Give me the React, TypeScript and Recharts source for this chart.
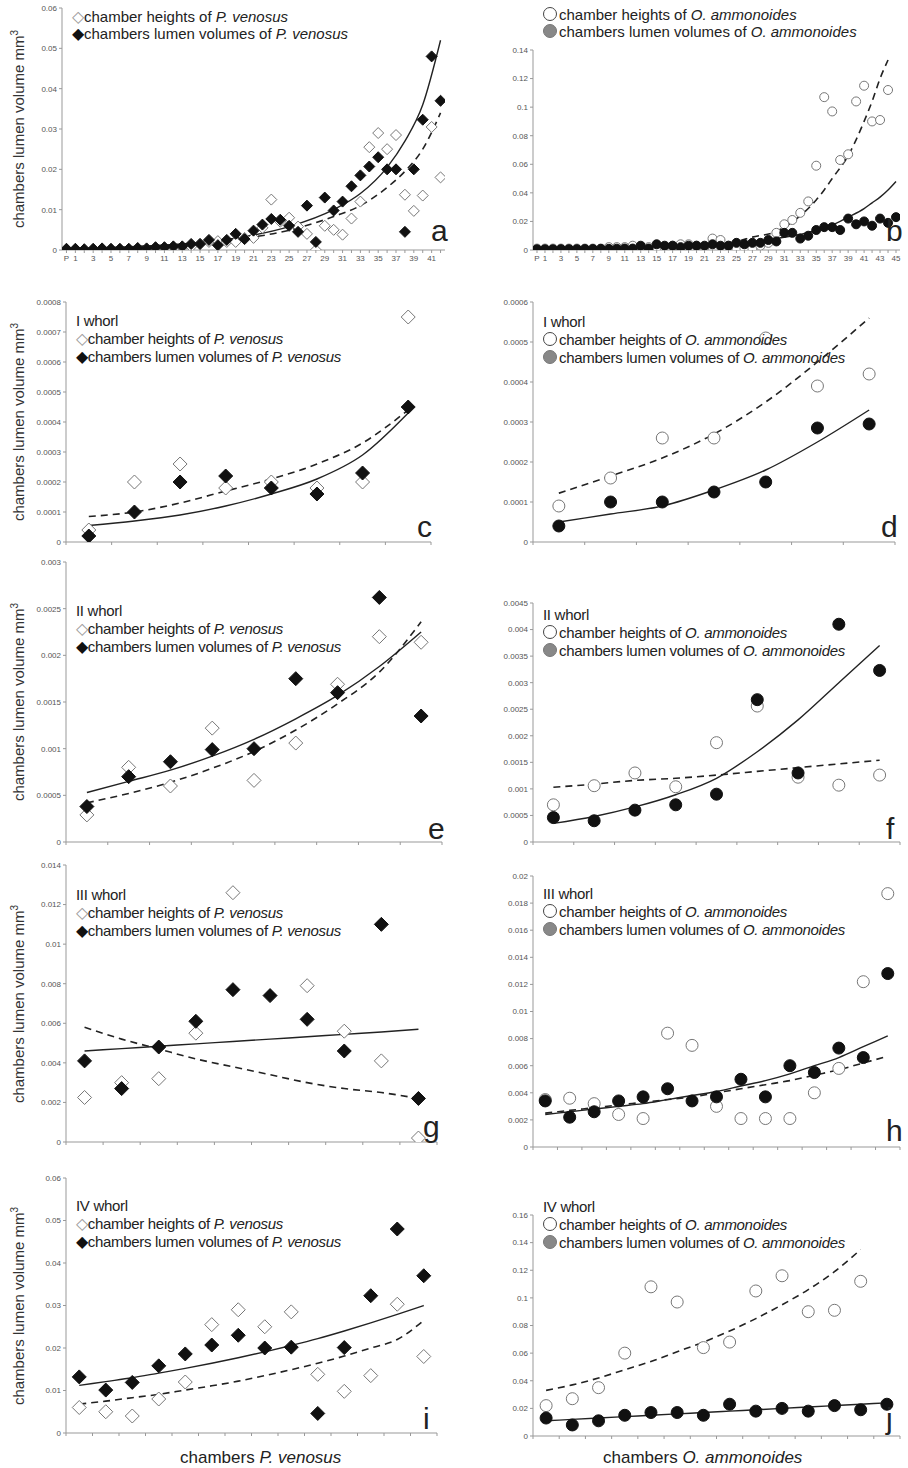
import React from "react";
import { ComposedChart, Scatter, Line, XAxis, YAxis } from "recharts";

// ---- data ----
const aIdx = Array.from({ length: 43 }, (_, i) => i);
const aLabels = ["P", "1", "", "3", "", "5", "", "7", "", "9", "", "11", "", "13", "", "15", "", "17", "", "19", "", "21", "", "23", "", "25", "", "27", "", "29", "", "31", "", "33", "", "35", "", "37", "", "39", "", "41", ""];
const aOpen = [0.0002, 0.0002, 0.0001, 0.0002, 0.0003, 0.0002, 0.0002, 0.0002, 0.0004, 0.0003, 0.0005, 0.0005, 0.0007, 0.0006, 0.0008, 0.0015, 0.002, 0.0022, 0.002, 0.002, 0.003, 0.003, 0.0055, 0.0125, 0.007, 0.008, 0.0058, 0.004, 0, 0.006, 0.005, 0.0038, 0.0078, 0.012, 0.0255, 0.029, 0.025, 0.0285, 0.0137, 0.0097, 0.0135, 0.0305, 0.018];
const aFilled = [0.0003, 0.0003, 0.0002, 0.0003, 0.0004, 0.0003, 0.0003, 0.0003, 0.0005, 0.0004, 0.0007, 0.0007, 0.0009, 0.0009, 0.0015, 0.0015, 0.0025, 0.0012, 0.0025, 0.004, 0.0027, 0.0048, 0.0063, 0.0077, 0.0075, 0.006, 0.0045, 0.011, 0.002, 0.013, 0.0098, 0.012, 0.0158, 0.0185, 0.0207, 0.023, 0.02, 0.02, 0.0045, 0.02, 0.0323, 0.048, 0.037];
const aTrendX = [0, 5, 10, 15, 20, 25, 30, 33, 36, 38, 40, 42];
const aSolid = [0.0003, 0.0006, 0.0011, 0.0019, 0.0033, 0.0058, 0.01, 0.014, 0.0205, 0.027, 0.036, 0.052];
const aDashed = [0.0003, 0.0006, 0.001, 0.0017, 0.0029, 0.0049, 0.0083, 0.011, 0.0155, 0.0195, 0.025, 0.034];

const bIdx = Array.from({ length: 46 }, (_, i) => i);
const bLabels = ["P", "1", "", "3", "", "5", "", "7", "", "9", "", "11", "", "13", "", "15", "", "17", "", "19", "", "21", "", "23", "", "25", "", "27", "", "29", "", "31", "", "33", "", "35", "", "37", "", "39", "", "41", "", "43", "", "45"];
const bOpen = [0.001, 0.001, 0.001, 0.001, 0.001, 0.001, 0.001, 0.001, 0.001, 0.002, 0.002, 0.002, 0.003, 0.002, 0.002, 0.001, 0.001, 0.003, 0.004, 0.004, 0.003, 0.002, 0.008, 0.007, 0.003, 0.001, 0.001, 0.001, 0.003, 0.005, 0.012, 0.018, 0.021, 0.026, 0.034, 0.059, 0.107, 0.097, 0.063, 0.067, 0.104, 0.115, 0.09, 0.091, 0.112, null];
const bFilled = [0.0005, 0.0005, 0.0005, 0.0006, 0.0006, 0.0006, 0.0007, 0.0007, 0.0008, 0.0008, 0.0009, 0.001, 0.001, 0.003, 0.001, 0.004, 0.003, 0.003, 0.002, 0.003, 0.003, 0.003, 0.004, 0.003, 0.003, 0.005, 0.004, 0.005, 0.005, 0.007, 0.006, 0.012, 0.012, 0.008, 0.01, 0.014, 0.016, 0.016, 0.014, 0.022, 0.018, 0.02, 0.017, 0.022, 0.019, 0.023];
const bTrendX = [0, 5, 10, 15, 20, 25, 27, 30, 33, 35, 36, 37, 39, 41, 42, 43, 44, 45];
const bSolid = [0.0003, 0.0005, 0.0009, 0.0016, 0.0028, 0.0045, 0.0057, 0.008, 0.011, 0.0138, 0.016, 0.0175, 0.023, 0.029, 0.033, 0.037, 0.042, 0.048];
const bDashed = [0.0003, 0.0005, 0.0009, 0.0016, 0.003, 0.006, 0.009, 0.013, 0.024, 0.035, 0.042, 0.05, 0.066, 0.09, 0.104, 0.12, 0.133, null];

const cOpen = [0.00004, 0.0002, 0.00026, 0.00018, 0.0002, 0.00018, 0.0002, 0.00075];
const cFilled = [0.00002, 0.0001, 0.0002, 0.00022, 0.00018, 0.00016, 0.00023, 0.00045];
const cSolid = [0.000055, 0.00007, 0.00009, 0.00012, 0.00016, 0.00021, 0.00029, 0.00043];
const cDashed = [0.000085, 0.0001, 0.00013, 0.00017, 0.00021, 0.00026, 0.00033, 0.00044];

const dOpen = [0.00009, 0.00016, 0.00026, 0.00026, 0.00051, 0.00039, 0.00042];
const dFilled = [0.00004, 0.0001, 0.0001, 0.000125, 0.00015, 0.000285, 0.000295];
const dSolid = [0.00005, 0.00007, 0.00009, 0.00013, 0.00018, 0.00025, 0.00033];
const dDashed = [0.000122, 0.000165, 0.00021, 0.00027, 0.00035, 0.00045, 0.00056];

const eOpen = [0.00029, 0.0008, 0.0006, 0.00122, 0.00066, 0.00106, 0.00169, 0.0022, 0.00214];
const eFilled = [0.00038, 0.0007, 0.00086, 0.00099, 0.001, 0.00175, 0.0016, 0.00262, 0.00135];
const eSolid = [0.00053, 0.00065, 0.00077, 0.00092, 0.0011, 0.00132, 0.00157, 0.00188, 0.00225];
const eDashed = [0.00042, 0.00052, 0.00064, 0.00079, 0.00097, 0.0012, 0.00148, 0.00182, 0.00236];

const fOpen = [0.0007, 0.00106, 0.0013, 0.00104, 0.00187, 0.00256, 0.00122, 0.00107, 0.00126];
const fFilled = [0.00046, 0.0004, 0.0006, 0.0007, 0.0009, 0.00268, 0.0013, 0.0041, 0.00323];
const fSolid = [0.00035, 0.00048, 0.00066, 0.00089, 0.0012, 0.0017, 0.0023, 0.003, 0.0037];
const fDashed = [0.00103, 0.00109, 0.00116, 0.0012, 0.00126, 0.00133, 0.0014, 0.00147, 0.00154];

const gOpen = [0.00225, 0.003, 0.0032, 0.0055, 0.0126, null, 0.0079, 0.0056, 0.0041, 0.0002];
const gFilled = [0.0041, 0.0027, 0.0048, 0.0061, 0.0077, 0.0074, 0.0062, 0.0046, 0.011, 0.0022];
const gSolid = [0.0046, 0.00472, 0.00484, 0.00496, 0.00508, 0.0052, 0.00532, 0.00544, 0.00556, 0.0057];
const gDashed = [0.0058, 0.0052, 0.0047, 0.0042, 0.0038, 0.0034, 0.003, 0.0027, 0.0025, 0.0022];

const hOpen = [0.0035, 0.0036, 0.0032, 0.0024, 0.0021, 0.0084, 0.0075, 0.003, 0.0021, 0.0021, 0.0021, 0.004, 0.0058, 0.0122, 0.0187];
const hFilled = [0.0034, 0.0022, 0.0026, 0.0034, 0.0037, 0.0043, 0.0034, 0.0037, 0.005, 0.0037, 0.006, 0.0055, 0.0073, 0.0066, 0.0128];
const hSolid = [0.0024, 0.0026, 0.0028, 0.003, 0.0032, 0.0035, 0.0038, 0.0041, 0.0045, 0.0049, 0.0054, 0.006, 0.0066, 0.0074, 0.0082];
const hDashed = [0.0025, 0.0027, 0.0029, 0.0031, 0.0033, 0.0035, 0.0037, 0.004, 0.0043, 0.0046, 0.0049, 0.0053, 0.0057, 0.0062, 0.0067];

const iOpen = [0.006, 0.005, 0.004, 0.008, 0.012, 0.0255, 0.029, 0.025, 0.0285, 0.0138, 0.0098, 0.0135, 0.0303, 0.018];
const iFilled = [0.0132, 0.0101, 0.0119, 0.0158, 0.0186, 0.0207, 0.023, 0.02, 0.0202, 0.0046, 0.0201, 0.0323, 0.048, 0.037];
const iSolid = [0.0112, 0.0121, 0.013, 0.0141, 0.0152, 0.0164, 0.0177, 0.0191, 0.0206, 0.0222, 0.024, 0.0259, 0.0279, 0.03];
const iDashed = [0.0068, 0.0075, 0.0083, 0.0091, 0.0101, 0.0111, 0.0122, 0.0135, 0.0149, 0.0164, 0.0181, 0.02, 0.022, 0.0265];

const jOpen = [0.022, 0.027, 0.035, 0.06, 0.108, 0.097, 0.064, 0.068, 0.105, 0.116, 0.09, 0.091, 0.112, null];
const jFilled = [0.013, 0.008, 0.011, 0.015, 0.017, 0.017, 0.015, 0.023, 0.018, 0.02, 0.018, 0.022, 0.019, 0.023];
const jSolid = [0.011, 0.012, 0.013, 0.014, 0.015, 0.016, 0.017, 0.018, 0.019, 0.02, 0.021, 0.022, 0.023, 0.024];
const jDashed = [0.033, 0.037, 0.042, 0.048, 0.054, 0.061, 0.068, 0.076, 0.085, 0.095, 0.106, 0.119, 0.135, null];

const FONT = "'Liberation Sans', Arial, sans-serif";

type Row = { x: number; open?: number | null; filled?: number | null; solid?: number | null; dashed?: number | null };

function centered(open: (number | null)[], filled: (number | null)[], solid: (number | null)[], dashed: (number | null)[]): Row[] {
  return filled.map((v, i) => ({ x: i + 0.5, open: open[i], filled: v, solid: solid[i], dashed: dashed[i] }));
}

function indexed(idx: number[], open: (number | null)[], filled: number[], tx: number[], solid: (number | null)[], dashed: (number | null)[]): Row[] {
  return idx.map((x, i) => {
    const t = tx.indexOf(x);
    return { x, open: open[i], filled: filled[i], solid: t >= 0 ? solid[t] : null, dashed: t >= 0 ? dashed[t] : null };
  });
}

const marker = (kind: "d" | "c", hollow: boolean, r: number) => (p: any) => {
  const { cx, cy } = p;
  if (!Number.isFinite(cx) || !Number.isFinite(cy)) return <g />;
  const fill = hollow ? "#fff" : "#111";
  const stroke = hollow ? "#777" : "#111";
  if (kind === "c") return <circle cx={cx} cy={cy} r={r} fill={fill} stroke={stroke} strokeWidth={1} />;
  return <path d={`M${cx},${cy - r}L${cx + r},${cy}L${cx},${cy + r}L${cx - r},${cy}Z`} fill={fill} stroke={stroke} strokeWidth={1} />;
};

type Panel = {
  col: 0 | 1; top: number; bottom: number; right: number; axisX: number;
  ymax: number; yticks: number[]; rows: Row[]; xDomain: [number, number]; xTicks: number[];
  xLabels?: string[]; kind: "d" | "c"; whorl?: string; letter: string; letterY: number;
  legendY: number; r: number; narrow: boolean;
};

const ticksN = (n: number) => Array.from({ length: n + 1 }, (_, i) => i);

const panels: Panel[] = [
  { col: 0, top: 8, bottom: 250, right: 445, axisX: 62, ymax: 0.06, yticks: [0, 0.01, 0.02, 0.03, 0.04, 0.05, 0.06], rows: indexed(aIdx, aOpen, aFilled, aTrendX, aSolid, aDashed), xDomain: [-0.5, 42.5], xTicks: aIdx, xLabels: aLabels, kind: "d", letter: "a", letterY: 214, legendY: 8, r: 5.5, narrow: false },
  { col: 1, top: 50, bottom: 250, right: 900, axisX: 533, ymax: 0.14, yticks: [0, 0.02, 0.04, 0.06, 0.08, 0.1, 0.12, 0.14], rows: indexed(bIdx, bOpen, bFilled, bTrendX, bSolid, bDashed), xDomain: [-0.5, 45.5], xTicks: bIdx, xLabels: bLabels, kind: "c", letter: "b", letterY: 214, legendY: 6, r: 4.5, narrow: false },
  { col: 0, top: 302, bottom: 542, right: 431, axisX: 66, ymax: 0.0008, yticks: [0, 0.0001, 0.0002, 0.0003, 0.0004, 0.0005, 0.0006, 0.0007, 0.0008], rows: centered(cOpen, cFilled, cSolid, cDashed), xDomain: [0, 8], xTicks: ticksN(8), kind: "d", whorl: "I whorl", letter: "c", letterY: 510, legendY: 312, r: 7, narrow: true },
  { col: 1, top: 302, bottom: 542, right: 895, axisX: 533, ymax: 0.0006, yticks: [0, 0.0001, 0.0002, 0.0003, 0.0004, 0.0005, 0.0006], rows: centered(dOpen, dFilled, dSolid, dDashed), xDomain: [0, 7], xTicks: ticksN(7), kind: "c", whorl: "I whorl", letter: "d", letterY: 510, legendY: 313, r: 6, narrow: true },
  { col: 0, top: 562, bottom: 842, right: 442, axisX: 66, ymax: 0.003, yticks: [0, 0.0005, 0.001, 0.0015, 0.002, 0.0025, 0.003], rows: centered(eOpen, eFilled, eSolid, eDashed), xDomain: [0, 9], xTicks: ticksN(9), kind: "d", whorl: "II whorl", letter: "e", letterY: 812, legendY: 602, r: 7, narrow: true },
  { col: 1, top: 603, bottom: 842, right: 900, axisX: 533, ymax: 0.0045, yticks: [0, 0.0005, 0.001, 0.0015, 0.002, 0.0025, 0.003, 0.0035, 0.004, 0.0045], rows: centered(fOpen, fFilled, fSolid, fDashed), xDomain: [0, 9], xTicks: ticksN(9), kind: "c", whorl: "II whorl", letter: "f", letterY: 812, legendY: 606, r: 6, narrow: true },
  { col: 0, top: 865, bottom: 1142, right: 437, axisX: 66, ymax: 0.014, yticks: [0, 0.002, 0.004, 0.006, 0.008, 0.01, 0.012, 0.014], rows: centered(gOpen, gFilled, gSolid, gDashed), xDomain: [0, 10], xTicks: ticksN(10), kind: "d", whorl: "III whorl", letter: "g", letterY: 1110, legendY: 886, r: 7, narrow: true },
  { col: 1, top: 876, bottom: 1147, right: 900, axisX: 533, ymax: 0.02, yticks: [0, 0.002, 0.004, 0.006, 0.008, 0.01, 0.012, 0.014, 0.016, 0.018, 0.02], rows: centered(hOpen, hFilled, hSolid, hDashed), xDomain: [0, 15], xTicks: ticksN(15), kind: "c", whorl: "III whorl", letter: "h", letterY: 1114, legendY: 885, r: 6, narrow: true },
  { col: 0, top: 1178, bottom: 1433, right: 437, axisX: 66, ymax: 0.06, yticks: [0, 0.01, 0.02, 0.03, 0.04, 0.05, 0.06], rows: centered(iOpen, iFilled, iSolid, iDashed), xDomain: [0, 14], xTicks: ticksN(14), kind: "d", whorl: "IV whorl", letter: "i", letterY: 1402, legendY: 1197, r: 7, narrow: true },
  { col: 1, top: 1215, bottom: 1436, right: 900, axisX: 533, ymax: 0.16, yticks: [0, 0.02, 0.04, 0.06, 0.08, 0.1, 0.12, 0.14, 0.16], rows: centered(jOpen, jFilled, jSolid, jDashed), xDomain: [0, 14], xTicks: ticksN(14), kind: "c", whorl: "IV whorl", letter: "j", letterY: 1402, legendY: 1198, r: 6, narrow: true },
];

function PanelChart({ p }: { p: Panel }) {
  const left = p.col * 454;
  const mTop = 10;
  const xAxisH = 24;
  const height = p.bottom - p.top + mTop + xAxisH;
  const width = p.right - left + 10;
  const yW = p.axisX - left;
  const species = p.kind === "d" ? "P. venosus" : "O. ammonoides";
  const sym = (hollow: boolean) =>
    p.kind === "d" ? (
      <span style={{ color: hollow ? "#999" : "#111", fontSize: 16, lineHeight: "10px" }}>{hollow ? "◇" : "◆"}</span>
    ) : (
      <span style={{ display: "inline-block", width: 12, height: 12, borderRadius: 7, border: hollow ? "1px solid #444" : "1px solid #777", background: hollow ? "#fff" : "#888", marginRight: 2, verticalAlign: -1 }} />
    );
  return (
    <div style={{ position: "absolute", left, top: p.top - mTop, width, height }}>
      <ComposedChart width={width} height={height} data={p.rows} margin={{ top: mTop, right: 10, bottom: 0, left: 0 }}>
        <XAxis type="number" dataKey="x" domain={p.xDomain} ticks={p.xTicks} interval={0} allowDataOverflow
          tickFormatter={(v: number) => (p.xLabels ? p.xLabels[v] ?? "" : "")} height={xAxisH}
          tick={{ fontSize: 8, fill: "#555", fontFamily: FONT }} stroke="#999" tickSize={3} />
        <YAxis type="number" domain={[0, p.ymax]} ticks={p.yticks} width={yW} allowDataOverflow
          tick={{ fontSize: 8, fill: "#555", fontFamily: FONT }} stroke="#999" tickSize={3} />
        <Line dataKey="dashed" stroke="#222" strokeWidth={1.6} strokeDasharray="7 5" dot={false} connectNulls type="monotone" isAnimationActive={false} />
        <Line dataKey="solid" stroke="#222" strokeWidth={1.4} dot={false} connectNulls type="monotone" isAnimationActive={false} />
        <Scatter dataKey="open" shape={marker(p.kind, true, p.r)} isAnimationActive={false} />
        <Scatter dataKey="filled" shape={marker(p.kind, false, p.r)} isAnimationActive={false} />
      </ComposedChart>
      <div style={{ position: "absolute", left: yW + 10, top: p.legendY - p.top + mTop, fontFamily: FONT, fontSize: 15, color: "#222", lineHeight: p.narrow ? "18px" : "17px", whiteSpace: "nowrap", letterSpacing: p.narrow ? -0.3 : 0 }}>
        {p.whorl && <div>{p.whorl}</div>}
        <div>{sym(true)}chamber heights of <i>{species}</i></div>
        <div>{sym(false)}chambers lumen volumes of <i>{species}</i></div>
      </div>
      <div style={{ position: "absolute", left: p.right - left - 14, top: p.letterY - p.top + mTop, fontFamily: FONT, fontSize: 30, color: "#222" }}>{p.letter}</div>
    </div>
  );
}

function YTitle({ top, bottom }: { top: number; bottom: number }) {
  const mid = (top + bottom) / 2;
  return (
    <div style={{ position: "absolute", left: 18, top: mid, width: 0, height: 0 }}>
      <div style={{ position: "absolute", transform: "translate(-50%, -50%) rotate(-90deg)", fontFamily: FONT, fontSize: 15, color: "#333", whiteSpace: "nowrap" }}>
        chambers lumen volume mm<sup style={{ fontSize: 10 }}>3</sup>
      </div>
    </div>
  );
}

export default function App() {
  return (
    <div style={{ position: "absolute", left: 0, top: 0, width: 908, height: 1468, background: "#fff" }}>
      {panels.map((p) => <PanelChart key={p.letter} p={p} />)}
      {panels.filter((p) => p.col === 0).map((p) => <YTitle key={p.letter} top={p.top} bottom={p.bottom} />)}
      <div style={{ position: "absolute", left: 180, top: 1448, fontFamily: FONT, fontSize: 17, color: "#222" }}>chambers <i>P. venosus</i></div>
      <div style={{ position: "absolute", left: 603, top: 1448, fontFamily: FONT, fontSize: 17, color: "#222" }}>chambers <i>O. ammonoides</i></div>
    </div>
  );
}
